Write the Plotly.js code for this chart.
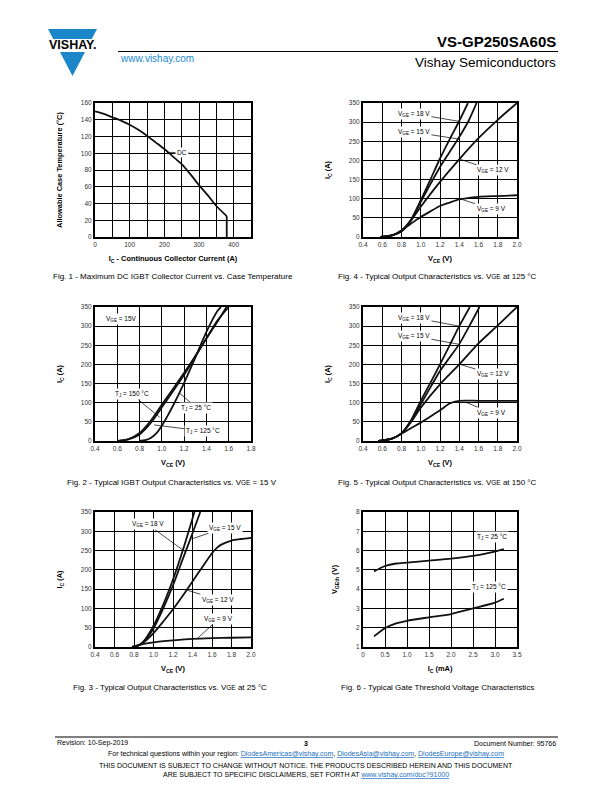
<!DOCTYPE html>
<html><head><meta charset="utf-8">
<script src="https://cdn.plot.ly/plotly-3.0.1.min.js"></script>
<style>html,body{margin:0;padding:0;background:#fff}#c{width:612px;height:792px}</style>
</head><body><div id="c"></div>
<script>
// ---------------- DATA ----------------
// Fig. 1 - Allowable case temperature vs continuous collector current
const fig1Current = [0, 25, 50, 75, 100, 125, 150, 175, 200, 225, 250, 275, 300, 325, 350, 380];
const fig1Temp    = [150, 147, 143, 139, 134, 128, 121, 113, 105, 96, 87, 75, 62, 50, 37, 25];
const fig1DropCurrent = [380, 380];
const fig1DropTemp    = [25, 0];

// Fig. 2 - VGE = 15 V, different junction temperatures
const fig2Vce25  = [0.80, 0.85, 0.90, 0.95, 1.00, 1.05, 1.10, 1.20, 1.30, 1.40, 1.50, 1.53];
const fig2Ic25   = [0, 2, 8, 20, 40, 65, 92, 152, 218, 285, 340, 350];
const fig2Vce125 = [0.62, 0.70, 0.80, 0.90, 1.00, 1.10, 1.20, 1.30, 1.40, 1.50, 1.60];
const fig2Ic125  = [0, 4, 17, 47, 88, 130, 173, 220, 268, 315, 350];
const fig2Vce150 = [0.60, 0.70, 0.80, 0.90, 1.00, 1.10, 1.20, 1.30, 1.40, 1.50, 1.58];
const fig2Ic150  = [0, 5, 21, 53, 95, 136, 178, 222, 268, 312, 350];

// Fig. 3 - Tj = 25 °C
const fig3Vce18 = [0.78, 0.85, 0.90, 1.00, 1.10, 1.20, 1.30, 1.42];
const fig3Ic18  = [0, 5, 15, 55, 110, 175, 250, 350];
const fig3Vce15 = [0.78, 0.85, 0.90, 1.00, 1.10, 1.20, 1.30, 1.40, 1.48];
const fig3Ic15  = [0, 5, 14, 48, 100, 160, 228, 295, 350];
const fig3Vce12 = [0.78, 0.85, 0.90, 1.00, 1.10, 1.20, 1.30, 1.40, 1.50, 1.60, 1.65, 1.70, 1.80, 1.90, 2.00];
const fig3Ic12  = [0, 4, 12, 36, 66, 98, 133, 170, 207, 243, 257, 266, 276, 280, 283];
const fig3Vce9  = [0.78, 0.85, 0.90, 1.00, 1.20, 1.40, 1.60, 1.80, 2.00];
const fig3Ic9   = [0, 5, 8, 12, 17, 21, 23, 24, 25];

// Fig. 4 - Tj = 125 °C
const fig4Vce18 = [0.58, 0.70, 0.80, 0.90, 1.00, 1.10, 1.20, 1.30, 1.40, 1.49];
const fig4Ic18  = [0, 4, 15, 46, 96, 150, 205, 255, 303, 350];
const fig4Vce15 = [0.58, 0.70, 0.80, 0.90, 1.00, 1.10, 1.20, 1.30, 1.40, 1.50, 1.58];
const fig4Ic15  = [0, 4, 15, 44, 92, 138, 183, 222, 261, 305, 350];
const fig4Vce12 = [0.58, 0.70, 0.80, 0.90, 1.00, 1.20, 1.40, 1.60, 1.80, 2.00];
const fig4Ic12  = [0, 4, 17, 44, 79, 144, 203, 258, 306, 350];
const fig4Vce9  = [0.58, 0.70, 0.80, 0.90, 1.00, 1.10, 1.20, 1.30, 1.40, 1.60, 1.80, 2.00];
const fig4Ic9   = [0, 4, 17, 35, 52, 67, 81, 90, 98, 105, 107, 109];

// Fig. 5 - Tj = 150 °C
const fig5Vce18 = [0.56, 0.70, 0.80, 0.90, 1.00, 1.10, 1.20, 1.30, 1.40, 1.51];
const fig5Ic18  = [0, 6, 20, 55, 105, 152, 200, 250, 300, 350];
const fig5Vce15 = [0.56, 0.70, 0.80, 0.90, 1.00, 1.10, 1.20, 1.30, 1.40, 1.50, 1.61];
const fig5Ic15  = [0, 6, 20, 52, 96, 140, 183, 218, 253, 298, 350];
const fig5Vce12 = [0.56, 0.70, 0.80, 0.90, 1.00, 1.20, 1.40, 1.60, 1.80, 2.00];
const fig5Ic12  = [0, 6, 20, 50, 87, 148, 200, 255, 302, 350];
const fig5Vce9  = [0.56, 0.70, 0.80, 0.90, 1.00, 1.10, 1.20, 1.30, 1.40, 1.60, 1.80, 2.00];
const fig5Ic9   = [0, 6, 19, 34, 48, 64, 80, 98, 105, 105, 105, 105];

// Fig. 6 - Gate threshold voltage vs Ic
const fig6Ic     = [0.25, 0.50, 0.75, 1.00, 1.50, 2.00, 2.50, 3.00, 3.20];
const fig6Vth25  = [4.92, 5.20, 5.33, 5.38, 5.48, 5.58, 5.72, 5.95, 6.07];
const fig6Vth125 = [1.55, 1.97, 2.22, 2.36, 2.54, 2.71, 3.00, 3.30, 3.50];
const fig6TickVals = [0, 0.5, 1.0, 1.5, 2.0, 2.5, 3.0, 3.5];
const fig6TickText = ['0', '0.5', '1.0', '1.5', '2.0', '2.5', '3.0', '3.5'];

// ---------------- HELPERS ----------------
const W = 612, H = 792;
const FONT = 'Liberation Sans, Arial, sans-serif';
const px = x => x / W;
const py = y => 1 - y / H;

function axis(dom, range, dtick, extra) {
  return Object.assign({
    domain: dom, range: range, dtick: dtick, tick0: range[0],
    showline: true, mirror: true, linecolor: '#000', linewidth: 2,
    showgrid: true, gridcolor: '#000', gridwidth: 1,
    zeroline: false, ticks: '', fixedrange: true, automargin: false,
    tickfont: {family: FONT, size: 6.5, color: '#333'}
  }, extra || {});
}
function xt(t) { return {text: t, font: {family: FONT, size: 7.4, color: '#000', weight: 'bold'}, standoff: 9}; }
function yt(t) { return {text: t, font: {family: FONT, size: 7.4, color: '#000', weight: 'bold'}, standoff: 17}; }

function line(x, y, xa, ya, smooth) {
  return {x: x, y: y, xaxis: xa, yaxis: ya, mode: 'lines', showlegend: false, hoverinfo: 'skip',
    line: {color: '#111', width: 1.8, shape: smooth === false ? 'linear' : 'spline', smoothing: 0.7}};
}

const annots = [];
function lab(xa, ya, text, x, y, tipx, tipy) {
  const a = {xref: xa, yref: ya, text: text, bgcolor: '#fff', borderpad: 1,
    font: {family: FONT, size: 6.5, color: '#000'}};
  if (tipx === undefined) { a.x = x; a.y = y; a.showarrow = false; }
  else {
    a.x = tipx; a.y = tipy; a.ax = x; a.ay = y; a.axref = xa; a.ayref = ya;
    a.showarrow = true; a.arrowhead = 0; a.arrowwidth = 0.7; a.arrowcolor = '#000';
  }
  annots.push(a);
}
function txt(text, x, y, size, anchor, extra) {
  annots.push(Object.assign({xref: 'paper', yref: 'paper', x: px(x), y: py(y), text: text,
    showarrow: false, xanchor: anchor || 'center', yanchor: 'middle',
    font: {family: FONT, size: size, color: '#000'}}, extra || {}));
}
const VGE = v => 'V<sub>GE</sub> = ' + v + ' V';
const TJ = t => 'T<sub>J</sub> = ' + t + ' °C';

// ---------------- TRACES ----------------
const traces = [
  line(fig1Current, fig1Temp, 'x', 'y'),
  line(fig1DropCurrent, fig1DropTemp, 'x', 'y', false),

  line(fig4Vce18, fig4Ic18, 'x2', 'y2'), line(fig4Vce15, fig4Ic15, 'x2', 'y2'),
  line(fig4Vce12, fig4Ic12, 'x2', 'y2'), line(fig4Vce9, fig4Ic9, 'x2', 'y2'),

  line(fig2Vce25, fig2Ic25, 'x3', 'y3'), line(fig2Vce125, fig2Ic125, 'x3', 'y3'),
  line(fig2Vce150, fig2Ic150, 'x3', 'y3'),

  line(fig5Vce18, fig5Ic18, 'x4', 'y4'), line(fig5Vce15, fig5Ic15, 'x4', 'y4'),
  line(fig5Vce12, fig5Ic12, 'x4', 'y4'), line(fig5Vce9, fig5Ic9, 'x4', 'y4'),

  line(fig3Vce18, fig3Ic18, 'x5', 'y5'), line(fig3Vce15, fig3Ic15, 'x5', 'y5'),
  line(fig3Vce12, fig3Ic12, 'x5', 'y5'), line(fig3Vce9, fig3Ic9, 'x5', 'y5'),

  line(fig6Ic, fig6Vth25, 'x6', 'y6'), line(fig6Ic, fig6Vth125, 'x6', 'y6')
];

// ---------------- LABELS ----------------
lab('x', 'y', 'DC', 250, 101);
lab('x2', 'y2', VGE(18), 0.93, 322, 1.40, 302);
lab('x2', 'y2', VGE(15), 0.93, 274, 1.39, 256);
lab('x2', 'y2', VGE(12), 1.75, 174, 1.41, 203);
lab('x2', 'y2', VGE(9), 1.73, 74, 1.44, 97);

lab('x3', 'y3', 'V<sub>GE</sub> = 15V', 0.64, 318);
lab('x3', 'y3', TJ(150), 0.73, 122, 0.98, 62);
lab('x3', 'y3', TJ(25), 1.31, 87, 1.155, 126);
lab('x3', 'y3', TJ(125), 1.37, 26, 0.93, 42);

lab('x4', 'y4', VGE(18), 0.93, 322, 1.40, 300);
lab('x4', 'y4', VGE(15), 0.93, 274, 1.39, 253);
lab('x4', 'y4', VGE(12), 1.75, 174, 1.41, 200);
lab('x4', 'y4', VGE(9), 1.73, 74, 1.46, 102);

lab('x5', 'y5', VGE(18), 0.94, 318, 1.32, 248);
lab('x5', 'y5', VGE(15), 1.73, 309, 1.39, 280);
lab('x5', 'y5', VGE(12), 1.66, 123, 1.335, 148);
lab('x5', 'y5', VGE(9), 1.67, 73, 1.45, 22);

lab('x6', 'y6', TJ(25), 2.94, 6.7);
lab('x6', 'y6', TJ(125), 2.86, 4.1);

// captions
const small = s => '<span style="font-size:6.5px">' + s + '</span>';
txt('Fig. 1 - Maximum DC IGBT Collector Current vs. Case Temperature', 173, 277, 8);
txt('Fig. 4 - Typical Output Characteristics vs. V' + small('GE') + ' at 125 °C', 437, 277, 8);
txt('Fig. 2 - Typical IGBT Output Characteristics vs. V' + small('GE') + ' = 15 V', 172, 482, 8);
txt('Fig. 5 - Typical Output Characteristics vs. V' + small('GE') + ' at 150 °C', 437, 482, 8);
txt('Fig. 3 - Typical Output Characteristics vs. V' + small('GE') + ' at 25 °C', 170, 687, 8);
txt('Fig. 6 - Typical Gate Threshold Voltage Characteristics', 437, 687, 8);

// header
txt('<b>VS-GP250SA60S</b>', 558, 41.5, 15, 'right');
txt('Vishay Semiconductors', 558, 62, 13.5, 'right');
txt('www.vishay.com', 118, 58.5, 10, 'left', {font: {family: FONT, size: 10, color: '#1a8ad4'}});
txt('<b>VISHAY.</b>', 72.5, 45.5, 12.5, 'center', {font: {family: FONT, size: 12.5, color: '#000'}});

// footer
const link = s => '<span style="color:#1a6fc0;text-decoration:underline">' + s + '</span>';
txt('Revision: 10-Sep-2019', 55, 743, 7, 'left');
txt('<b>3</b>', 306, 743, 7, 'center');
txt('Document Number: 95766', 558, 743, 7, 'right');
txt('For technical questions within your region: ' + link('DiodesAmericas@vishay.com') + ', ' +
    link('DiodesAsia@vishay.com') + ', ' + link('DiodesEurope@vishay.com'), 306, 753.5, 7, 'center');
txt('THIS DOCUMENT IS SUBJECT TO CHANGE WITHOUT NOTICE. THE PRODUCTS DESCRIBED HEREIN AND THIS DOCUMENT', 306, 765, 7, 'center');
txt('ARE SUBJECT TO SPECIFIC DISCLAIMERS, SET FORTH AT ' + link('www.vishay.com/doc?91000'), 306, 774.5, 7, 'center');

// shapes
function ppath(pts) { return 'M' + pts.map(p => px(p[0]) + ',' + py(p[1])).join('L') + 'Z'; }
const shapes = [
  {type: 'path', xref: 'paper', yref: 'paper', path: ppath([[48, 29], [97, 29], [91.8, 39], [53.2, 39]]),
   fillcolor: '#1b86c8', line: {width: 0}},
  {type: 'path', xref: 'paper', yref: 'paper', path: ppath([[60, 52], [85, 52], [72.5, 76]]),
   fillcolor: '#1b86c8', line: {width: 0}},
  {type: 'line', xref: 'paper', yref: 'paper', x0: px(118), x1: px(558), y0: py(51.5), y1: py(51.5),
   line: {color: '#000', width: 1}},
  {type: 'line', xref: 'paper', yref: 'paper', x0: px(55), x1: px(558), y0: py(737), y1: py(737),
   line: {color: '#000', width: 1}},
  {type: 'line', xref: 'x', yref: 'y', x0: 208, x1: 272, y0: 101, y1: 101, line: {color: '#000', width: 0.7}}
];

// ---------------- LAYOUT ----------------
const layout = {
  width: W, height: H, margin: {l: 0, r: 0, t: 0, b: 0},
  paper_bgcolor: '#fff', plot_bgcolor: '#fff', showlegend: false,
  font: {family: FONT},
  xaxis: axis([px(95), px(251)], [0, 450], 100,
    {anchor: 'y', title: xt('I<sub>C</sub> - Continuous Collector Current (A)'), minor: {dtick: 50, showgrid: true, gridcolor: '#000', gridwidth: 1}}),
  yaxis: axis([py(237), py(103)], [0, 160], 20, {anchor: 'x', title: yt('Allowable Case Temperature (°C)')}),

  xaxis2: axis([px(363), px(517)], [0.4, 2.0], 0.2, {anchor: 'y2', tickformat: '.1f', title: xt('V<sub>CE</sub> (V)')}),
  yaxis2: axis([py(237), py(103)], [0, 350], 50, {anchor: 'x2', title: yt('I<sub>C</sub> (A)')}),

  xaxis3: axis([px(95), px(251)], [0.4, 1.8], 0.2, {anchor: 'y3', tickformat: '.1f', title: xt('V<sub>CE</sub> (V)')}),
  yaxis3: axis([py(441), py(307)], [0, 350], 50, {anchor: 'x3', title: yt('I<sub>C</sub> (A)')}),

  xaxis4: axis([px(363), px(517)], [0.4, 2.0], 0.2, {anchor: 'y4', tickformat: '.1f', title: xt('V<sub>CE</sub> (V)')}),
  yaxis4: axis([py(441), py(307)], [0, 350], 50, {anchor: 'x4', title: yt('I<sub>C</sub> (A)')}),

  xaxis5: axis([px(95), px(251)], [0.4, 2.0], 0.2, {anchor: 'y5', tickformat: '.1f', title: xt('V<sub>CE</sub> (V)')}),
  yaxis5: axis([py(647), py(512)], [0, 350], 50, {anchor: 'x5', title: yt('I<sub>C</sub> (A)')}),

  xaxis6: axis([px(363), px(517)], [0, 3.5], 0.5, {anchor: 'y6', tickmode: 'array', tickvals: fig6TickVals, ticktext: fig6TickText, title: xt('I<sub>C</sub> (mA)')}),
  yaxis6: axis([py(647), py(512)], [1, 8], 1, {anchor: 'x6', title: yt('V<sub>GEth</sub> (V)')}),

  annotations: annots, shapes: shapes
};

Plotly.newPlot('c', traces, layout, {staticPlot: true, displayModeBar: false});
</script></body></html>
